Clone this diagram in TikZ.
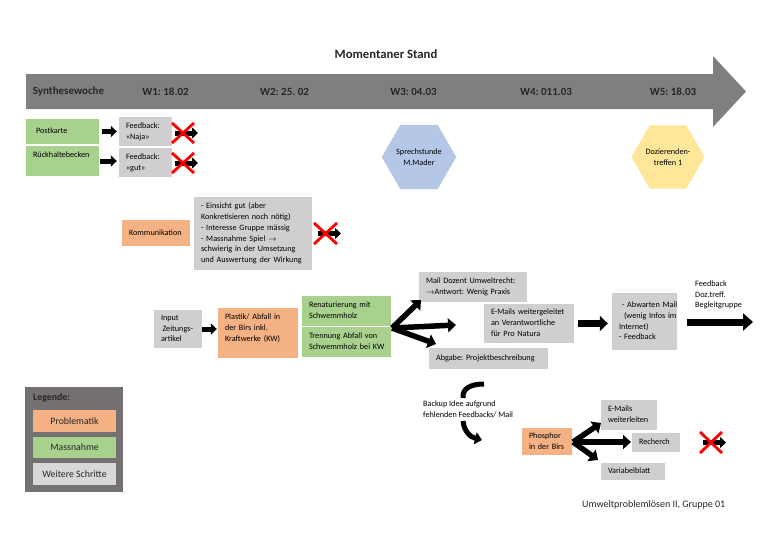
\documentclass[tikz,border=0pt]{standalone}
\usepackage{fontspec}
\setmainfont{Carlito}
\usetikzlibrary{arrows.meta,shapes.geometric}
\definecolor{cgreen}{HTML}{A9D18E}
\definecolor{corange}{HTML}{F4B183}
\definecolor{cgrey}{HTML}{D0CECE}
\definecolor{carrow}{HTML}{7F7F7F}
\definecolor{clegbg}{HTML}{767171}
\definecolor{cblue}{HTML}{B4C7E7}
\definecolor{cyellow}{HTML}{FFE699}
\definecolor{ctext}{HTML}{262626}
\frenchspacing
\newcommand\lns[1]{\begin{tabular}{@{}l@{}}#1\end{tabular}}
\begin{document}
\begin{tikzpicture}[x=1pt,y=-1pt,
  box/.style={rectangle, inner xsep=7pt, inner ysep=0pt, align=left,
    font=\fontsize{8.2}{10.8}\selectfont, text=black},
  gbox/.style={box, fill=cgreen},
  obox/.style={box, fill=corange},
  sbox/.style={box, fill=cgrey},
  wk/.style={font=\bfseries\fontsize{11}{13}\selectfont, text=ctext, inner sep=0pt},
  hexa/.style={regular polygon, regular polygon sides=6, minimum size=68pt,
    inner sep=0pt, align=center, font=\fontsize{8.2}{10.8}\selectfont},
  lbox/.style={rectangle, minimum width=83pt, inner sep=0pt,
    font=\fontsize{9.8}{12}\selectfont, text=ctext},
  smallarr/.style={line width=5pt, black, -{Triangle[length=6pt,width=11pt]}},
  forkarr/.style={line width=5.5pt, black, -{Triangle[length=8pt,width=14pt]}},
  midarr/.style={line width=6.5pt, black, -{Triangle[length=8pt,width=15pt]}},
  bigarr/.style={line width=7pt, black, -{Triangle[length=10pt,width=17pt]}},
  redx/.style={line width=2.8pt, red},
  plain/.style={font=\fontsize{8.2}{10.8}\selectfont, align=left, inner sep=0pt}
]
\useasboundingbox (0,0) rectangle (768,543);

% title and timeline
\node[font=\bfseries\fontsize{12.7}{15}\selectfont, text=ctext] (title) at (386,54) {Momentaner Stand};
\fill[carrow] (26,74) -- (713,74) -- (713,56) -- (746,91.5) -- (713,127) -- (713,109) -- (26,109) -- cycle;
\node[wk] (syn) at (68.5,91.5) {Synthesewoche};
\node[wk] (w1) at (165.5,91.5) {W1: 18.02};
\node[wk] (w2) at (284.5,91.5) {W2: 25. 02};
\node[wk] (w3) at (413.5,91.5) {W3: 04.03};
\node[wk] (w4) at (546,91.5) {W4: 011.03};
\node[wk] (w5) at (673,91.5) {W5: 18.03};

% week 1
\node[gbox, minimum width=73pt, minimum height=25pt, text width=59pt] (post) at (62.5,131.5) {\lns{\hspace*{3pt}Postkarte}};
\node[gbox, minimum width=73pt, minimum height=30pt, text width=59pt] (rueck) at (62.5,161) {\lns{Rückhaltebecken\rule[-15pt]{0pt}{15pt}}};
\node[sbox, minimum width=53pt, minimum height=29pt, text width=39pt] (fb1) at (145.5,131.5) {\lns{Feedback:\\«Naja»}};
\node[sbox, minimum width=53pt, minimum height=29pt, text width=39pt] (fb2) at (145.5,162.5) {\lns{Feedback:\\«gut»}};
\draw[smallarr, shorten <=3pt, shorten >=2pt] (post.east) -- (post.east -| fb1.west);
\draw[smallarr, shorten <=1pt, shorten >=2pt] (rueck.east) -- (rueck.east -| fb2.west);
\coordinate (x1) at (198,133);
\coordinate (x2) at (198,163);
\draw[smallarr, shorten <=3pt] (fb1.east |- x1) -- (x1);
\draw[smallarr, shorten <=3pt] (fb2.east |- x2) -- (x2);
\draw[redx] (172,123) -- (194,143) (172,143) -- (194,123);
\draw[redx] (172,153) -- (194,173) (172,173) -- (194,153);

% Kommunikation
\node[obox, minimum width=68pt, minimum height=26pt, text width=54pt] (komm) at (156,233) {\lns{Kommunikation}};
\node[sbox, minimum width=118pt, minimum height=73pt, text width=104pt] (eins) at (253,233.5) {\lns{- Einsicht gut (aber\\Konkretisieren noch nötig)\\- Interesse Gruppe mässig\\- Massnahme Spiel $\rightarrow$\\schwierig in der Umsetzung\\und Auswertung der Wirkung}};
\coordinate (x3) at (341,233.5);
\draw[smallarr, shorten <=6pt] (eins.east) -- (x3);
\draw[redx] (314,223) -- (337,244) (314,244) -- (337,223);

% hexagons
\node[hexa, fill=cblue] (sprech) at (419,157) {Sprechstunde\\M.Mader};
\node[hexa, fill=cyellow] (dozt) at (668,157) {Dozierenden-\\treffen 1};

% main chain
\node[sbox, minimum width=48pt, minimum height=38pt, text width=34pt] (input) at (178,329) {\lns{Input\\\hspace*{1.5pt}Zeitungs-\\artikel}};
\node[obox, minimum width=80pt, minimum height=50pt, text width=66pt] (plast) at (258,333) {\lns{Plastik/ Abfall in\\der Birs inkl.\\Kraftwerke (KW)\rule[-13pt]{0pt}{13pt}}};
\node[gbox, minimum width=89pt, minimum height=30pt, text width=75pt] (renat) at (346.5,311) {\lns{Renaturierung mit\\Schwemmholz}};
\node[gbox, minimum width=89pt, minimum height=30pt, text width=75pt] (trenn) at (346.5,342) {\lns{Trennung Abfall von\\Schwemmholz bei KW}};
\draw[smallarr, shorten >=1pt] (input.east) -- (input.east -| plast.west);

\node[sbox, minimum width=108pt, minimum height=30pt, text width=94pt] (mail) at (473,287) {\lns{Mail Dozent Umweltrecht:\\$\rightarrow$Antwort: Wenig Praxis}};
\node[sbox, minimum width=90pt, minimum height=39pt, text width=76pt] (emails) at (529,323.5) {\lns{E-Mails weitergeleitet\\an Verantwortliche\\für Pro Natura}};
\node[sbox, minimum width=119pt, minimum height=21pt, text width=105pt] (abgabe) at (488.5,358.5) {\lns{Abgabe: Projektbeschreibung}};
\node[sbox, minimum width=65pt, minimum height=57pt, text width=51pt] (abw) at (644.5,321.5) {\lns{\hspace*{3pt}- Abwarten Mail\\\hspace*{5pt}(wenig Infos im\\Internet)\\- Feedback}};

\coordinate (f1) at (392,328);
\coordinate (f1a) at (421,300);
\coordinate (f1b) at (456,325);
\coordinate (f1c) at (436,344);
\draw[forkarr] (f1) -- (f1a);
\draw[forkarr] (f1) -- (f1b);
\draw[forkarr] (f1) -- (f1c);

\draw[midarr, shorten <=4pt, shorten >=4pt] (emails.east) -- (emails.east -| abw.west);
\coordinate (fbend) at (753,322);
\draw[bigarr, shorten <=10pt] (abw.east |- fbend) -- (fbend);
\node[plain, anchor=north west] (fbtext) at (695,280.5) {Feedback\\Doz.treff.\\Begleitgruppe};

% backup
\node[plain, anchor=west] (backup) at (423,409.5) {Backup Idee aufgrund\\fehlenden Feedbacks/ Mail};
\draw[line width=5pt, black] (463,398) .. controls (462,389) and (470,384) .. (484,384);
\draw[line width=5pt, black, -{Triangle[length=7pt,width=12pt]}] (463,421) .. controls (464,431) and (470,437) .. (482,440);

\node[obox, minimum width=50pt, minimum height=27pt, text width=36pt] (phos) at (547,441.5) {\lns{Phosphor\\in der Birs}};
\node[sbox, minimum width=56pt, minimum height=30pt, text width=42pt] (emw) at (629,415) {\lns{E-Mails\\weiterleiten}};
\node[sbox, minimum width=48pt, minimum height=19pt, text width=34pt] (rech) at (656,442.5) {\lns{Recherch}};
\node[sbox, minimum width=64pt, minimum height=17pt, text width=50pt] (var) at (633,471.5) {\lns{Variabelblatt}};
\coordinate (f2) at (573,442);
\coordinate (f2a) at (601,423);
\coordinate (f2b) at (631,442);
\coordinate (f2c) at (598,460);
\draw[forkarr] (f2) -- (f2a);
\draw[forkarr] (f2) -- (f2b);
\draw[forkarr] (f2) -- (f2c);
\coordinate (x4) at (726,442.5);
\draw[smallarr, shorten <=23pt] (rech.east) -- (x4);
\draw[redx] (700,432) -- (722,453) (700,453) -- (722,432);

% legend
\node[rectangle, fill=clegbg, minimum width=98pt, minimum height=105pt, inner sep=0pt, anchor=north west] (leg) at (25,387) {};
\node[font=\bfseries\fontsize{9.8}{12}\selectfont, text=ctext, anchor=west, inner sep=0pt] (legt) at (33,398) {Legende:};
\node[lbox, fill=corange, minimum height=22pt] (lprob) at (74.5,421) {Problematik};
\node[lbox, fill=cgreen, minimum height=21pt] (lmass) at (74.5,447.5) {Massnahme};
\node[lbox, fill=cgrey!80!white, minimum height=22pt] (lweit) at (74.5,474) {Weitere Schritte};

% footer
\node[font=\fontsize{10}{12}\selectfont, text=ctext, anchor=west, inner sep=0pt] (foot) at (582,505) {Umweltproblemlösen II, Gruppe 01};
\end{tikzpicture}
\end{document}
